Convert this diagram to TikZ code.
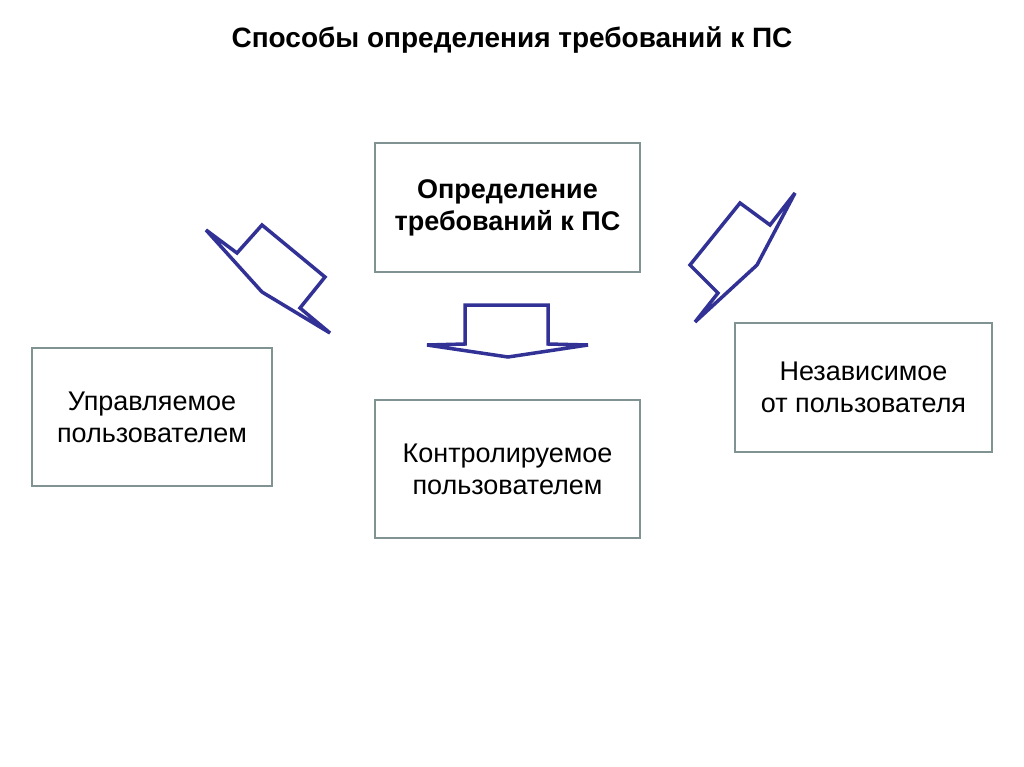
\documentclass[tikz,border=0pt]{standalone}
\usepackage{fontspec}
\setmainfont{Liberation Sans}
\begin{document}
\begin{tikzpicture}[x=1pt,y=-1pt,
 box/.style={draw=boxc,line width=2pt,fill=white,align=center,font=\fontsize{27}{32}\selectfont},
 arr/.style={draw=arrc,line width=3.5pt,line join=miter}]
\definecolor{boxc}{RGB}{128,146,146}
\definecolor{arrc}{RGB}{50,50,150}
\useasboundingbox (0,0) rectangle (1024,767);
\node[font=\bfseries\fontsize{28}{32}\selectfont] (title) at (512,40) {Способы определения требований к ПС};
\node[box,minimum width=265pt,minimum height=129pt,font=\bfseries\fontsize{27}{32}\selectfont] (top) at (507.5,207.5) {Определение\\требований к ПС};
\node[box,minimum width=240pt,minimum height=138pt] (left) at (152,417) {Управляемое\\пользователем};
\node[box,minimum width=265pt,minimum height=138pt] (mid) at (507.5,469) {Контролируемое\\пользователем};
\node[box,minimum width=257pt,minimum height=129pt] (right) at (863.5,387.5) {Независимое\\от пользователя};
\draw[arr] (465,305) -- (548,305) -- (548,344) -- (588,345) -- (508,357) -- (427,345) -- (465,344) -- cycle;
\draw[arr] (206,230) -- (237,253) -- (262,225) -- (325,277) -- (300,308) -- (330,333) -- (262,292) -- cycle;
\draw[arr] (795,193) -- (770,225) -- (740,203) -- (690,265) -- (718,293) -- (695,322) -- (757,265) -- cycle;
\end{tikzpicture}
\end{document}
